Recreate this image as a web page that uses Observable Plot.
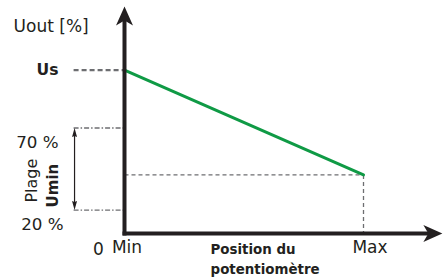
<!DOCTYPE html>
<html><head><meta charset="utf-8">
<script src="https://cdn.jsdelivr.net/npm/d3@7"></script>
<script src="https://cdn.jsdelivr.net/npm/@observablehq/plot@0.6"></script>
<style>body{margin:0;background:#fff}</style>
</head><body><div id="chart"></div>
<script>
// Schematic data (x: potentiometer position 0=Min..1=Max; y: output level in schematic units 0..100)
const positionLabels = ["Min", "Max"];
const positionValues = [0, 1];
const outputLevels = [72, 25.8];          // Us at Min, Umin at Max
const rangeLabels = ["70 %", "20 %"];
const rangeLevels = [46.5, 10.3];         // limits of the Umin range
const yAxisLabel = "Uout [%]";
const xAxisLabel = "Position du\npotentiomètre";
const axisTip = {x: 1.33, y: 100};
const axisLineEnd = {x: 1.27, y: 94};
const guideStartX = -0.213;
const rangeArrowX = -0.209;

const ink = "#231f20", grey = "#6d6e71", green = "#0f9a45";

function arrowHead(w, l, notch) {
  return {draw(ctx) {
    ctx.moveTo(0, 0); ctx.lineTo(w / 2, l); ctx.lineTo(0, notch); ctx.lineTo(-w / 2, l); ctx.closePath();
  }};
}
const bigHead = arrowHead(17, 19, 14);
const smallHead = arrowHead(5, 9, 8);

const curve = positionValues.map((x, i) => ({x, y: outputLevels[i]}));
const axes = [
  {x1: 0, y1: 0, x2: 0, y2: axisLineEnd.y},
  {x1: 0, y1: 0, x2: axisLineEnd.x, y2: 0}
];
const axisHeads = [
  {x: 0, y: axisTip.y, r: 0},
  {x: axisTip.x, y: 0, r: 90}
];
const usGuide = [{x1: guideStartX, x2: 0, y: outputLevels[0]}];
const rangeGuides = rangeLevels.map(y => ({x1: guideStartX, x2: 0, y}));
const uminGuides = [
  {x1: 0, y1: outputLevels[1], x2: positionValues[1], y2: outputLevels[1]},
  {x1: positionValues[1], y1: outputLevels[1], x2: positionValues[1], y2: 0}
];
const rangeArrow = [{x1: rangeArrowX, y1: rangeLevels[1] + 2, x2: rangeArrowX, y2: rangeLevels[0] - 2}];
const rangeHeads = [
  {x: rangeArrowX, y: rangeLevels[0], r: 0},
  {x: rangeArrowX, y: rangeLevels[1], r: 180}
];

const font = "DejaVu Sans, sans-serif";

const chart = Plot.plot({
  width: 443, height: 278,
  marginLeft: 124, marginRight: 80, marginTop: 6, marginBottom: 45,
  x: {domain: [0, 1], axis: null},
  y: {domain: [0, 100], axis: null},
  style: {fontFamily: font, color: ink, background: "#fff"},
  marks: [
    Plot.link(uminGuides, {x1: "x1", y1: "y1", x2: "x2", y2: "y2", stroke: grey, strokeWidth: 1.3, strokeDasharray: "4,3"}),
    Plot.link(rangeGuides, {x1: "x1", x2: "x2", y1: "y", y2: "y", stroke: grey, strokeWidth: 1.4, strokeDasharray: "5,2,1.5,2"}),
    Plot.link(usGuide, {x1: "x1", x2: "x2", y1: "y", y2: "y", stroke: grey, strokeWidth: 2.2, strokeDasharray: "5,3"}),
    Plot.link(rangeArrow, {x1: "x1", y1: "y1", x2: "x2", y2: "y2", stroke: ink, strokeWidth: 1.2}),
    Plot.dot(rangeHeads, {x: "x", y: "y", rotate: "r", symbol: smallHead, fill: ink, stroke: "none"}),
    Plot.line(curve, {x: "x", y: "y", stroke: green, strokeWidth: 3}),
    Plot.link(axes, {x1: "x1", y1: "y1", x2: "x2", y2: "y2", stroke: ink, strokeWidth: 4, strokeLinecap: "square"}),
    Plot.dot(axisHeads, {x: "x", y: "y", rotate: "r", symbol: bigHead, fill: ink, stroke: "none"}),
    Plot.text([yAxisLabel], {x: -0.464, y: 91.2, text: d => d, textAnchor: "start", fontSize: 17, fill: ink}),
    Plot.text(["Us"], {x: -0.276, y: outputLevels[0], text: d => d, textAnchor: "end", fontSize: 15.6, fontWeight: "bold", fill: ink}),
    Plot.text(rangeLabels, {x: [-0.276, -0.255], y: rangeLevels, text: d => d, textAnchor: "end", dy: 15, fontSize: 16.7, fill: ink}),
    Plot.text(["Plage"], {x: -0.388, y: 23.3, text: d => d, rotate: -90, fontSize: 16, fill: ink}),
    Plot.text(["Umin"], {x: -0.297, y: 21.1, text: d => d, rotate: -90, fontSize: 15, fontWeight: "bold", fill: ink}),
    Plot.text(["0"], {x: 0, y: 0, text: d => d, dx: -26, dy: 16, fontSize: 17, fill: ink}),
    Plot.text([positionLabels[0]], {x: positionValues[0], y: 0, text: d => d, dx: 2.5, dy: 14, fontSize: 17, fill: ink}),
    Plot.text([positionLabels[1]], {x: positionValues[1], y: 0, text: d => d, dx: 6.5, dy: 13.7, fontSize: 17, fill: ink}),
    Plot.text([xAxisLabel], {x: 0.36, y: 0, text: d => d, textAnchor: "start", dy: 24, lineHeight: 1.47, fontSize: 13.4, fontWeight: "bold", fill: ink})
  ]
});
document.getElementById("chart").append(chart);
</script>
</body></html>
